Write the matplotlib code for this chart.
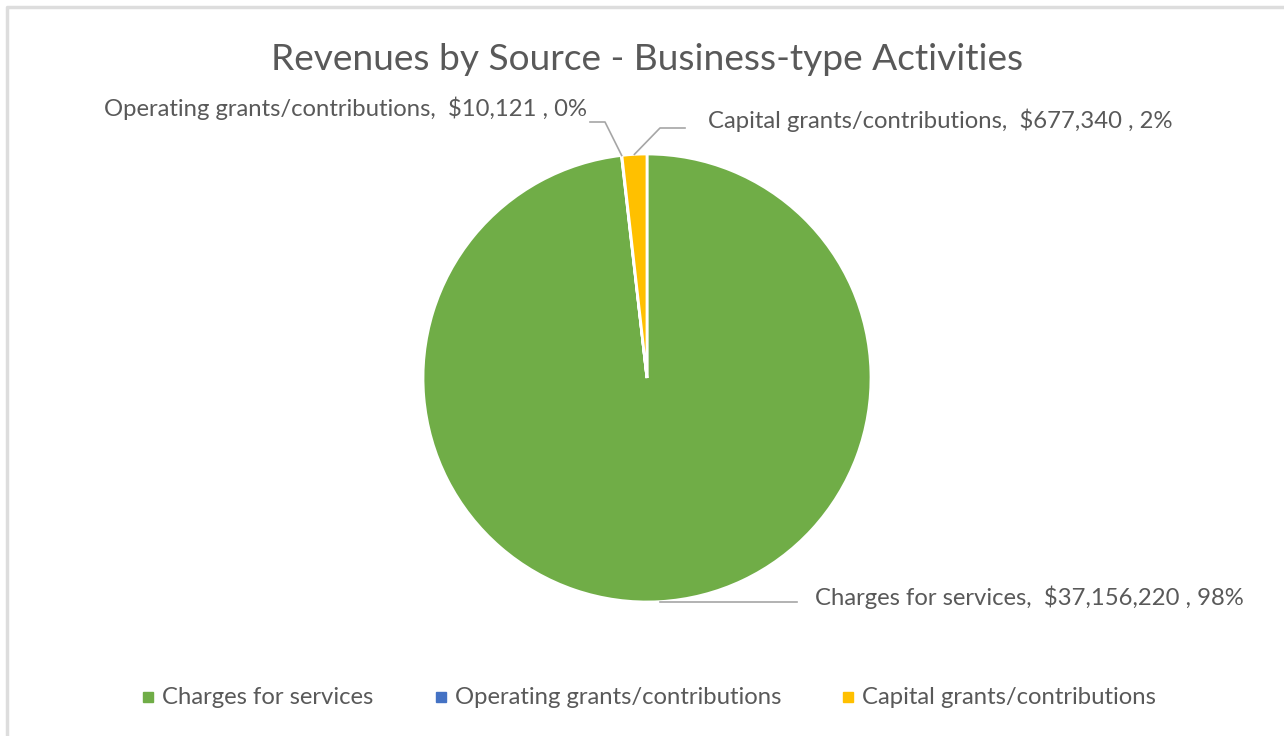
import numpy as np
import matplotlib
matplotlib.use("Agg")
import matplotlib.pyplot as plt
from matplotlib.patches import Rectangle

categories = ["Charges for services", "Operating grants/contributions", "Capital grants/contributions"]
values = [37156220, 10121, 677340]
colors = ["#70AD47", "#4472C4", "#FFC000"]
title = "Revenues by Source - Business-type Activities"

W, H = 1284, 736
fig = plt.figure(figsize=(W / 100, H / 100), dpi=100)
ax = fig.add_axes([0, 0, 1, 1])

FONT = "Lato"
TXT = "#595959"

cx, cy, r = 647, H - 378, 224
wedges, _ = ax.pie(values, colors=colors, startangle=90, counterclock=False,
                   center=(cx, cy), radius=r, frame=True,
                   wedgeprops=dict(edgecolor="white", linewidth=2))
ax.set_xlim(0, W)
ax.set_ylim(0, H)
ax.set_aspect("equal")
ax.axis("off")

# outer frame (top and left edges visible)
ax.plot([6.5, 6.5, W], [0, H - 7, H - 7], color="#DDDDDD", lw=2.5, solid_capstyle="butt")

total = sum(values)
labels = [f"{c},  ${v:,} , {round(100 * v / total):.0f}%" for c, v in zip(categories, values)]

def edge_point(w):
    ang = np.deg2rad((w.theta1 + w.theta2) / 2)
    return cx + r * np.cos(ang), cy + r * np.sin(ang)

FS = 17.2
line_kw = dict(color="#A6A6A6", lw=1.2)
# Charges
px, py = edge_point(wedges[0])
ax.plot([px, 797], [py, py], **line_kw)
ax.text(815, H - 597, labels[0], fontsize=FS, color=TXT, family=FONT, va="center", ha="left")
# Operating
px, py = edge_point(wedges[1])
ax.plot([px, 605, 590], [py, H - 122, H - 122], **line_kw)
ax.text(587, H - 108, labels[1], fontsize=FS, color=TXT, family=FONT, va="center", ha="right")
# Capital
px, py = edge_point(wedges[2])
ax.plot([px, 660, 685], [py, H - 128, H - 128], **line_kw)
ax.text(708, H - 120, labels[2], fontsize=FS, color=TXT, family=FONT, va="center", ha="left")

ax.text(647, H - 60, title, fontsize=26.7, color=TXT, family=FONT, ha="center", va="center")

# legend
leg_x = [148, 441, 848]
for x, c, lab in zip(leg_x, colors, categories):
    ax.add_patch(Rectangle((x - 5, H - 702), 10, 10, color=c))
    ax.text(x + 14, H - 697, lab, fontsize=FS, color=TXT, family=FONT, va="center", ha="left")

fig.savefig("out.png", dpi=100)
